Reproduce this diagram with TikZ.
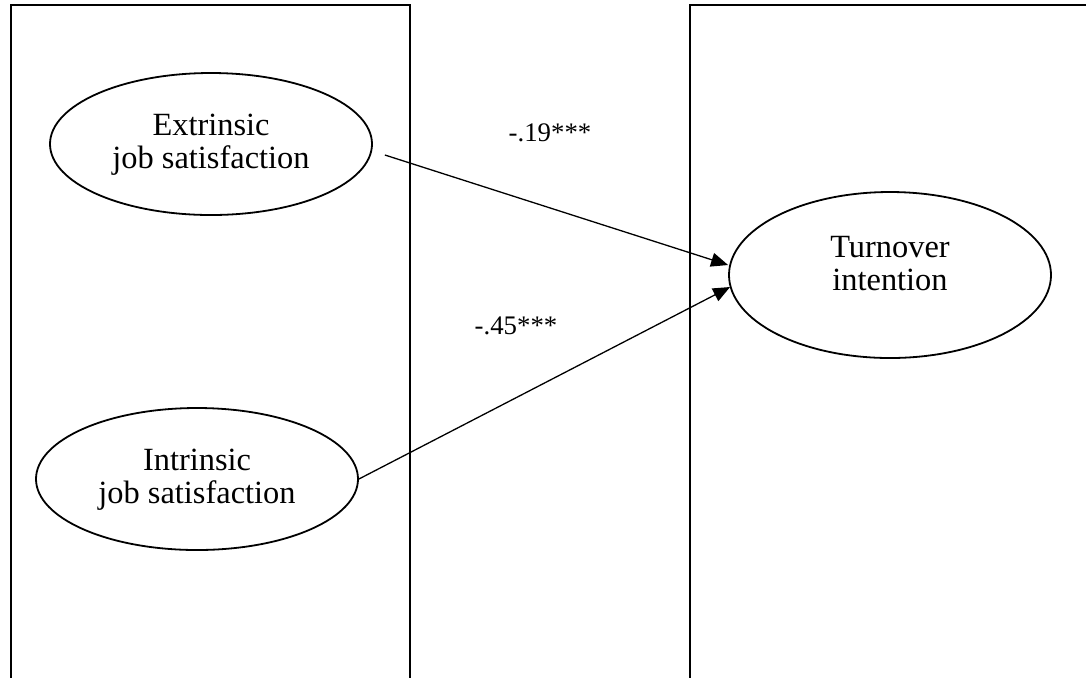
\documentclass[tikz,border=0pt]{standalone}
\usepackage{fontspec}
\setmainfont{Liberation Serif}
\usetikzlibrary{shapes.geometric,arrows.meta}
\tikzset{
  panel/.style={draw=black, line width=1pt},
  ell/.style={draw=black, ellipse, line width=0.9pt, minimum width=161pt, minimum height=71pt, inner sep=0pt},
  ltxt/.style={align=center, font=\fontsize{16.2}{16.5}\selectfont, inner sep=0pt},
  coef/.style={font=\fontsize{13.4}{14}\selectfont, inner sep=0pt},
  arr/.style={draw=black, line width=0.65pt, -{Triangle[length=8.5pt, width=7pt]}}
}
\begin{document}
\begin{tikzpicture}[x=0.5pt, y=-0.5pt]
  \useasboundingbox (0,0) rectangle (1086,677);
  \clip (0,0) rectangle (1086,677);
  \draw[panel] (11,5) rectangle (410,700);
  \draw[panel] (690,5) rectangle (1110,700);
  \node[ell] (ext) at (211,144) {};
  \node[ltxt] (extt) at (211,145) {Extrinsic\\job satisfaction};
  \node[ell] (int) at (197,479) {};
  \node[ltxt] (intt) at (197,480) {Intrinsic\\job satisfaction};
  \node[ell, minimum height=83pt] (to) at (890,275) {};
  \node[ltxt] (tot) at (890,264) {Turnover\\intention};
  \draw[arr] ([shift={(12,11)}]ext.east) -- ([shift={(0,-10)}]to.west);
  \draw[arr] (int.east) -- ([shift={(2,12)}]to.west);
  \node[coef] (c1) at (550,133) {-.19***};
  \node[coef] (c2) at (516,326) {-.45***};
\end{tikzpicture}
\end{document}
